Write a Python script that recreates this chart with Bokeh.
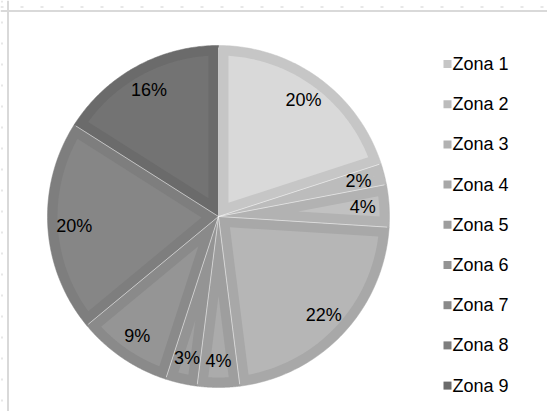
import numpy as np
from bokeh.plotting import figure
from bokeh.models import Range1d, Span
from bokeh.core.properties import value
from bokeh.embed import file_html
from bokeh.resources import INLINE

# ---- data ----
zones = ["Zona 1", "Zona 2", "Zona 3", "Zona 4", "Zona 5",
         "Zona 6", "Zona 7", "Zona 8", "Zona 9"]
shares = [20, 2, 4, 22, 4, 3, 9, 20, 16]
edge_colors = ["#c6c6c6", "#bcbcbc", "#b2b2b2", "#a8a8a8", "#9e9e9e",
               "#949494", "#8a8a8a", "#7e7e7e", "#6b6b6b"]
fill_colors = ["#d9d9d9", "#cbcbcb", "#c1c1c1", "#b6b6b6", "#ababab",
               "#a0a0a0", "#959595", "#868686", "#737373"]

# ---- layout (picture pixels) ----
W, H = 547, 411
ORG = 0
CX, CY = 218, 216
R = 171
INSET = 10
FONT = value("Liberation Sans")

p = figure(width=W, height=H, output_backend="svg", toolbar_location=None,
           x_range=Range1d(ORG - CX, ORG + W - CX),
           y_range=Range1d(CY - (ORG + H), CY - ORG),
           x_axis_type=None, y_axis_type=None, min_border=0)
p.grid.visible = False
p.outline_line_color = None
p.background_fill_color = "white"
p.border_fill_color = "white"

frac = np.array(shares, dtype=float) / sum(shares)
ends = np.cumsum(frac) * 2 * np.pi
starts = ends - frac * 2 * np.pi

def pt(r, a):
    return r * np.sin(a), r * np.cos(a)

outer_xs, outer_ys, inner_xs, inner_ys, inner_cols = [], [], [], [], []
for a1, a2, fc in zip(starts, ends, fill_colors):
    arc = np.linspace(a1, a2, 80)
    x, y = pt(R, arc)
    outer_xs.append(np.concatenate([[0.0], x]))
    outer_ys.append(np.concatenate([[0.0], y]))
    d = a2 - a1
    ri = R - INSET
    off = np.arcsin(INSET / ri)
    if 2 * off < d:
        v = INSET / np.sin(d / 2)
        vx, vy = pt(v, (a1 + a2) / 2)
        arc_i = np.linspace(a1 + off, a2 - off, 80)
        ix, iy = pt(ri, arc_i)
        inner_xs.append(np.concatenate([[vx], ix]))
        inner_ys.append(np.concatenate([[vy], iy]))
        inner_cols.append(fc)

p.patches(outer_xs, outer_ys, fill_color=edge_colors, line_color=edge_colors,
          line_width=0.5)
p.patches(inner_xs, inner_ys, fill_color=inner_cols, line_color=None)

# light separator lines between slices
sx, sy = pt(R - 2, starts)
p.segment(x0=np.zeros(len(starts)), y0=np.zeros(len(starts)), x1=sx, y1=sy,
          line_color="white", line_alpha=0.55, line_width=1)

# percentage labels
mids = (starts + ends) / 2
lx, ly = pt(R * 0.845, mids)
p.text(x=lx, y=ly, text=[f"{s}%" for s in shares], text_font=FONT,
       text_font_size="18px", text_align="center", text_baseline="middle",
       text_color="#000000")

# legend
idx = np.arange(len(zones))
leg_y = CY - (63.5 + 40.2 * idx)
p.rect(x=np.full(len(zones), 447 - CX), y=leg_y, width=8, height=8,
       fill_color=edge_colors, line_color=None)
p.text(x=np.full(len(zones), 452 - CX), y=leg_y, text=zones, text_font=FONT,
       text_font_size="18px", text_align="left", text_baseline="middle",
       text_color="#000000")

# sheet gridline dots (top and left)
p.add_layout(Span(location=CY - 6.5, dimension="width", line_color="#cfcfcf",
                  line_width=1, line_dash="3 17"))
p.add_layout(Span(location=1.5 - CX, dimension="height", line_color="#cfcfcf",
                  line_width=1, line_dash="2 19"))

# chart area border (left and top edges visible)
p.add_layout(Span(location=7.5 - CX, dimension="height", line_color="#d9d9d9",
                  line_width=2))
p.add_layout(Span(location=CY - 10.5, dimension="width", line_color="#d9d9d9",
                  line_width=2))

open("out.html", "w").write(file_html(p, INLINE))
